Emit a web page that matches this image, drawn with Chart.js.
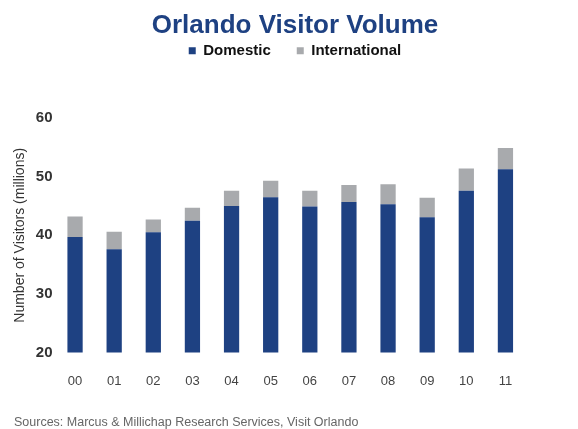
<!DOCTYPE html>
<html>
<head>
<meta charset="utf-8">
<script src="https://cdn.jsdelivr.net/npm/chart.js@4"></script>
<style>
html,body{margin:0;padding:0;background:#fff;}
#wrap{position:relative;width:578px;height:429px;}
#src{position:absolute;left:14px;top:415px;font-family:'Liberation Sans',Arial,sans-serif;font-size:12.5px;color:#666;white-space:nowrap;}
</style>
</head>
<body>
<div id="wrap"><canvas id="c" width="578" height="429"></canvas>
<div id="src">Sources: Marcus &amp; Millichap Research Services, Visit Orlando</div></div>
<script>
const categories = ["00","01","02","03","04","05","06","07","08","09","10","11"];
const domestic = [39.7, 37.6, 40.5, 42.5, 45.0, 46.5, 44.9, 45.7, 45.3, 43.1, 47.6, 51.3];
const international = [3.5, 3.0, 2.2, 2.2, 2.6, 2.8, 2.7, 2.9, 3.4, 3.3, 3.8, 3.6];
const yTicks = [20, 30, 40, 50, 60];

new Chart(document.getElementById('c'), {
  type: 'bar',
  data: {
    labels: categories,
    datasets: [
      { label: 'Domestic', data: domestic, backgroundColor: '#1e4182', barPercentage: 0.39, categoryPercentage: 1.0 },
      { label: 'International', data: international, backgroundColor: '#a8aaad', barPercentage: 0.39, categoryPercentage: 1.0 }
    ]
  },
  options: {
    responsive: false,
    animation: false,
    layout: { padding: { top: 10, left: 12, right: 0, bottom: 19 } },
    plugins: {
      title: {
        display: true,
        text: 'Orlando Visitor Volume',
        color: '#1e4182',
        font: { family: 'Liberation Sans', size: 26, weight: 'bold' },
        padding: { top: 0, bottom: -24 }
      },
      legend: {
        display: true,
        labels: {
          boxWidth: 7, boxHeight: 7,
          color: '#111',
          font: { family: 'Liberation Sans', size: 15, weight: 'bold' },
          padding: 26
        }
      },
      subtitle: {
        display: true,
        position: 'top',
        weight: 500,
        text: ' ',
        font: { size: 10 },
        padding: { top: 0, bottom: 38 }
      },
      tooltip: { enabled: false }
    },
    scales: {
      x: {
        stacked: true,
        grid: { display: false, drawTicks: false },
        border: { display: false },
        ticks: { color: '#444', font: { family: 'Liberation Sans', size: 13 }, padding: 21 }
      },
      y: {
        stacked: true,
        min: 20, max: 60,
        afterBuildTicks(axis) { axis.ticks = yTicks.map(v => ({ value: v })); },
        grid: { display: false, drawTicks: false },
        border: { display: false },
        ticks: { color: '#333', font: { family: 'Liberation Sans', size: 15, weight: 'bold' }, padding: 3 },
        title: {
          display: true,
          text: 'Number of Visitors (millions)',
          color: '#333',
          font: { family: 'Liberation Sans', size: 14 },
          padding: { top: 0, bottom: 4 }
        }
      },
      yRight: {
        position: 'right',
        display: true,
        ticks: { display: false },
        grid: { display: false, drawTicks: false },
        border: { display: false },
        afterFit(scale) { scale.width = 53; }
      }
    }
  }
});
</script>
</body>
</html>
